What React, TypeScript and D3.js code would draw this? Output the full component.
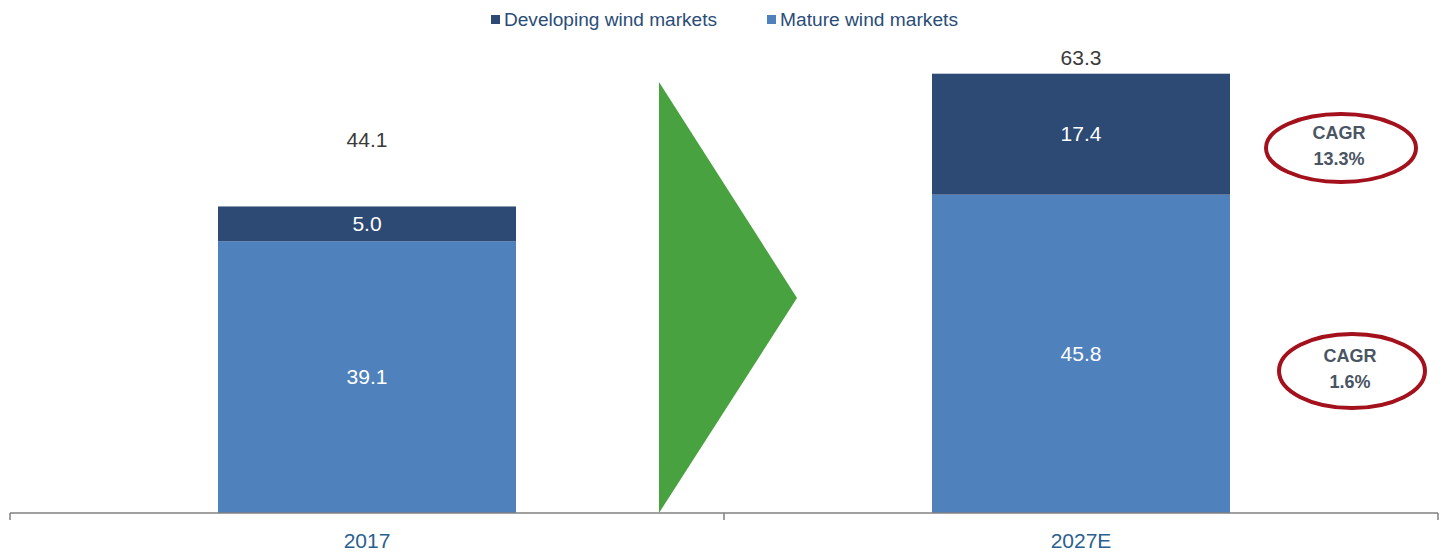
import React from "react";
import * as d3 from "d3";

const categories = ["2017", "2027E"];
const matureValues = [39.1, 45.8];
const developingValues = [5.0, 17.4];
const totalLabels = ["44.1", "63.3"];
const seriesNames = ["Developing wind markets", "Mature wind markets"];
const cagrLabels = ["13.3%", "1.6%"];

const W = 1443;
const H = 555;
const margin = { left: 10, right: 5, top: 0, bottom: 42 };
const baseY = 513;
const COLOR_DEV = "#2c4a74";
const COLOR_MAT = "#4f81bd";

export default function App() {
  const x = d3
    .scaleBand<string>()
    .domain(categories)
    .range([margin.left, W - margin.right]);
  const band = x.bandwidth();
  const barW = 298;
  const cx = (c: string) => (x(c) as number) + band / 2;
  const y = d3.scaleLinear().domain([0, 63.3]).range([baseY, 73]);

  const font = "Arial, 'Liberation Sans', sans-serif";
  const totalLabelY = [140, 58];

  return (
    <svg width={W} height={H} style={{ display: "block", position: "absolute", left: 0, top: 0 }}>
      <rect width={W} height={H} fill="#fff" />
      {/* legend */}
      <g fontFamily={font} fontSize={17.5} fill="#2a4d78">
        <rect x={491} y={15} width={9} height={9} fill={COLOR_DEV} />
        <text x={504} y={26} textLength={213} lengthAdjust="spacingAndGlyphs">{seriesNames[0]}</text>
        <rect x={767} y={15} width={9} height={9} fill={COLOR_MAT} />
        <text x={780} y={26} textLength={178} lengthAdjust="spacingAndGlyphs">{seriesNames[1]}</text>
      </g>

      {/* green arrow */}
      <path d={`M659,82 L797,298 L659,513 Z`} fill="#48a23f" />

      {categories.map((c, i) => {
        const x0 = cx(c) - barW / 2;
        const m = matureValues[i];
        const d = developingValues[i];
        return (
          <g key={c} fontFamily={font} fontSize={21} textAnchor="middle">
            <rect x={x0} y={y(m)} width={barW} height={y(0) - y(m)} fill={COLOR_MAT} />
            <rect x={x0} y={y(m + d)} width={barW} height={y(m) - y(m + d)} fill={COLOR_DEV} />
            <text x={cx(c)} y={(y(0) + y(m)) / 2 + 7} fill="#fff">{m.toFixed(1)}</text>
            <text x={cx(c)} y={(y(m) + y(m + d)) / 2 + 7} fill="#fff">{d.toFixed(1)}</text>
            <text x={cx(c)} y={totalLabelY[i] + 7} fill="#3a3a3a">{totalLabels[i]}</text>
            <text x={cx(c)} y={548} fill="#2a5f8f">{c}</text>
          </g>
        );
      })}

      {/* axis */}
      <g stroke="#808080" strokeWidth={1.5} fill="none">
        <line x1={margin.left} x2={W - margin.right} y1={baseY} y2={baseY} />
        {[0, 1, 2].map((k) => (
          <line key={k} x1={margin.left + band * k} x2={margin.left + band * k} y1={baseY} y2={baseY + 7} />
        ))}
      </g>

      {/* CAGR ellipses */}
      {[
        { cx: 1341, cy: 148, rx: 75, ry: 34 },
        { cx: 1352, cy: 371, rx: 73, ry: 37 },
      ].map((e, i) => (
        <g key={i} fontFamily={font} fontWeight="bold" fontSize={18} fill="#4a5563" textAnchor="middle">
          <ellipse cx={e.cx} cy={e.cy} rx={e.rx} ry={e.ry} fill="none" stroke="#a3111c" strokeWidth={4} />
          <text x={e.cx - 2} y={e.cy - 9}>CAGR</text>
          <text x={e.cx - 2} y={e.cy + 17}>{cagrLabels[i]}</text>
        </g>
      ))}
    </svg>
  );
}
